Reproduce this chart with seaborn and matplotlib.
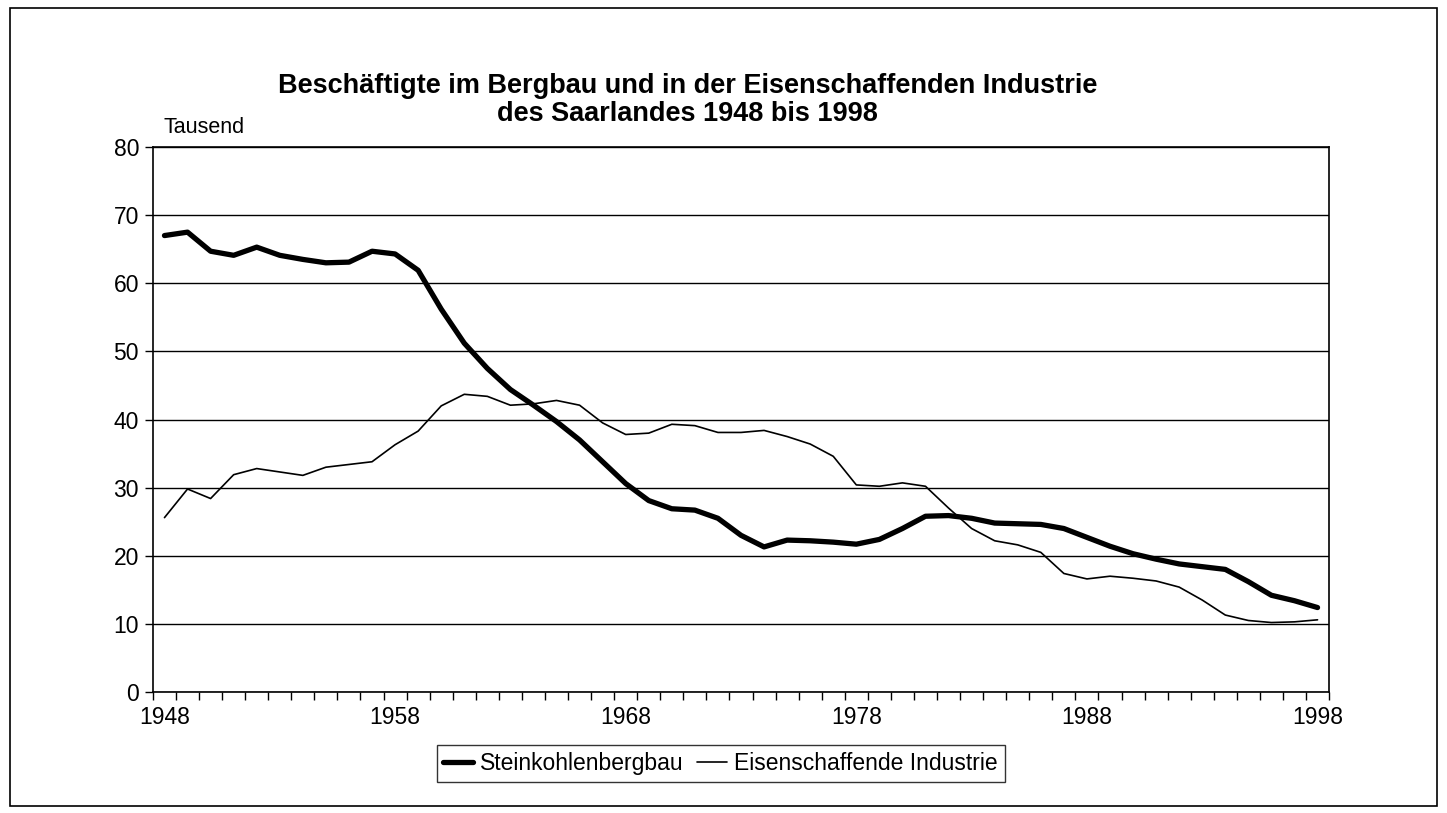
import seaborn as sns
import matplotlib.pyplot as plt
from matplotlib.lines import Line2D
from matplotlib.patches import Rectangle
import pandas as pd

# Beschaeftigte in Tausend, 1948 - 1998
years = list(range(1948, 1999))

steinkohle = [67.0, 67.5, 64.7, 64.1, 65.3, 64.1, 63.5, 63.0, 63.1, 64.7,
              64.3, 61.9, 56.2, 51.2, 47.5, 44.4, 42.1, 39.7, 37.0, 33.8,
              30.6, 28.1, 26.9, 26.7, 25.5, 23.0, 21.3, 22.3, 22.2, 22.0,
              21.7, 22.4, 24.0, 25.8, 25.9, 25.5, 24.8, 24.7, 24.6, 24.0,
              22.7, 21.4, 20.3, 19.5, 18.8, 18.4, 18.0, 16.2, 14.2, 13.4,
              12.4]

eisen = [25.6, 29.8, 28.4, 31.9, 32.8, 32.3, 31.8, 33.0, 33.4, 33.8,
         36.3, 38.3, 42.0, 43.7, 43.4, 42.1, 42.3, 42.8, 42.1, 39.5,
         37.8, 38.0, 39.3, 39.1, 38.1, 38.1, 38.4, 37.5, 36.4, 34.6,
         30.4, 30.2, 30.7, 30.2, 27.0, 24.0, 22.2, 21.6, 20.5, 17.4,
         16.6, 17.0, 16.7, 16.3, 15.4, 13.5, 11.3, 10.5, 10.2, 10.3,
         10.6]

labels = ['Steinkohlenbergbau', 'Eisenschaffende Industrie']
label_years = [1948, 1958, 1968, 1978, 1988, 1998]

df = pd.DataFrame({'Jahr': years, labels[0]: steinkohle, labels[1]: eisen})

sns.set_style('white')
plt.rcParams['font.family'] = ['Liberation Sans', 'DejaVu Sans']
plt.rcParams['text.color'] = 'black'
plt.rcParams['xtick.color'] = 'black'
plt.rcParams['ytick.color'] = 'black'

fig = plt.figure(figsize=(14.47, 8.13), dpi=100)
ax = fig.add_axes([0.1057, 0.1488, 0.8128, 0.6704])

sns.lineplot(data=df, x='Jahr', y=labels[1], color='black', linewidth=1.2, ax=ax)
sns.lineplot(data=df, x='Jahr', y=labels[0], color='black', linewidth=3.8, ax=ax)

ax.set_xlim(1947.5, 1998.5)
ax.set_ylim(0, 80)
ax.set_yticks(range(0, 81, 10))
ax.set_xticks(label_years)
ax.set_xticks([y - 0.5 for y in years] + [1998.5], minor=True)
ax.tick_params(axis='x', which='major', length=0, labelsize=16.5, pad=10)
ax.tick_params(axis='x', which='minor', length=6, width=1, direction='out', color='black')
ax.tick_params(axis='y', which='major', length=6, width=1, direction='out', color='black',
               labelsize=16.5, pad=4)
ax.xaxis.set_ticks_position('bottom')
ax.yaxis.set_ticks_position('left')
ax.grid(axis='y', color='black', linewidth=1)
ax.set_axisbelow(True)
for s in ax.spines.values():
    s.set_color('black')
    s.set_linewidth(1.2)
ax.set_xlabel('')
ax.set_ylabel('')

fig.text(0.475, 1 - 86 / 813, 'Beschäftigte im Bergbau und in der Eisenschaffenden Industrie',
         ha='center', va='center', fontsize=19.5, fontweight='bold')
fig.text(0.475, 1 - 114 / 813, 'des Saarlandes 1948 bis 1998',
         ha='center', va='center', fontsize=19.5, fontweight='bold')
fig.text(0.113, 0.843, 'Tausend', ha='left', va='center', fontsize=15.5)

handles = [Line2D([], [], color='black', linewidth=3.8),
           Line2D([], [], color='black', linewidth=1.2)]
leg = fig.legend(handles, labels, loc='center', bbox_to_anchor=(0.498, 0.061), ncol=2,
                 fontsize=16.5, frameon=True, fancybox=False, handlelength=1.3,
                 handletextpad=0.3, columnspacing=0.6, borderpad=0.3)
leg.get_frame().set_edgecolor('black')
leg.get_frame().set_linewidth(1)

fig.patches.append(Rectangle((0.007, 0.008), 0.986, 0.982, transform=fig.transFigure,
                             fill=False, edgecolor='black', linewidth=1.2))

plt.savefig('out.png', dpi=100)
